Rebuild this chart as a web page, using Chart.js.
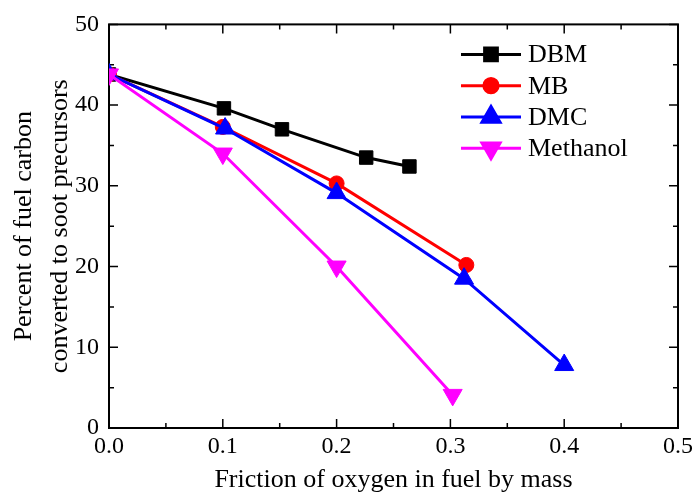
<!DOCTYPE html>
<html lang="en">
<head>
<meta charset="utf-8" />
<title>Fuel carbon converted to soot precursors</title>
<script src="https://cdn.jsdelivr.net/npm/chart.js@4.4.0/dist/chart.umd.min.js"></script>
<style>
  html, body { margin: 0; padding: 0; background: #fff; }
  #wrap { width: 697px; height: 492px; }
</style>
</head>
<body>
<div id="wrap"><canvas id="grafico"></canvas></div>
<script>
// datos
const seriesNames = ["DBM", "MB", "DMC", "Methanol"];
const dbmX = [0, 0.101, 0.152, 0.226, 0.264];
const dbmY = [43.8, 39.6, 37.0, 33.5, 32.4];
const mbX = [0, 0.1, 0.2, 0.314];
const mbY = [43.8, 37.3, 30.3, 20.2];
const dmcX = [0, 0.102, 0.2, 0.312, 0.4];
const dmcY = [43.8, 37.1, 29.1, 18.5, 7.8];
const metX = [0, 0.1, 0.2, 0.302];
const metY = [43.8, 34.0, 20.0, 4.1];
const xTicks = [0, 0.1, 0.2, 0.3, 0.4, 0.5];
const yTicks = [0, 10, 20, 30, 40, 50];

const FUENTE = "'Liberation Serif', 'Times New Roman', serif";

function pares(xs, ys) {
    return xs.map((x, i) => ({ x: x, y: ys[i] }));
}

const estilos = [
    { color: "#000000", punto: "rect", r: 9.5, rot: 0 },
    { color: "#ff0000", punto: "circle", r: 7.5, rot: 0 },
    { color: "#0000ff", punto: "triangle", r: 11, rot: 0 },
    { color: "#ff00ff", punto: "triangle", r: 11, rot: 180 },
];
const valores = [
    pares(dbmX, dbmY),
    pares(mbX, mbY),
    pares(dmcX, dmcY),
    pares(metX, metY),
];

// marco y marcas hacia adentro
const marco = {
    id: "marco",
    beforeDatasetsDraw(chart) {
        const ctx = chart.ctx, a = chart.chartArea;
        const xs = chart.scales.x, ys = chart.scales.y;
        ctx.save();
        ctx.strokeStyle = "#000";
        ctx.lineWidth = 1.5;
        ctx.beginPath();
        for (let i = 0; i <= 10; i++) {
            const px = xs.getPixelForValue(i * 0.05);
            const largo = i % 2 === 0 ? 9 : 5;
            ctx.moveTo(px, a.bottom); ctx.lineTo(px, a.bottom - largo);
            ctx.moveTo(px, a.top); ctx.lineTo(px, a.top + largo);
            const py = ys.getPixelForValue(i * 5);
            ctx.moveTo(a.left, py); ctx.lineTo(a.left + largo, py);
            ctx.moveTo(a.right, py); ctx.lineTo(a.right - largo, py);
        }
        ctx.stroke();
        ctx.lineWidth = 2;
        ctx.strokeRect(a.left, a.top, a.right - a.left, a.bottom - a.top);
        ctx.restore();
    },
    afterDraw(chart) {
        const ctx = chart.ctx, a = chart.chartArea;
        ctx.save();
        chart.data.datasets.forEach((d, i) => {
            const e = estilos[i];
            const y = a.top + 30 + i * 31.3;
            const x0 = a.right - 217;
            ctx.strokeStyle = e.color;
            ctx.fillStyle = e.color;
            ctx.lineWidth = 3;
            ctx.beginPath();
            ctx.moveTo(x0, y);
            ctx.lineTo(x0 + 60, y);
            ctx.stroke();
            Chart.helpers.drawPoint(ctx, { pointStyle: e.punto, radius: e.r * 0.95, rotation: e.rot, borderWidth: 1 }, x0 + 30, y);
            ctx.fillStyle = "#000";
            ctx.font = "26px " + FUENTE;
            ctx.textBaseline = "middle";
            ctx.fillText(d.label, x0 + 67, y + 1);
        });
        ctx.restore();
    },
};

new Chart(document.getElementById("grafico").getContext("2d"), {
    type: "scatter",
    data: {
        datasets: seriesNames.map((n, i) => ({
            label: n,
            data: valores[i],
            showLine: true,
            borderColor: estilos[i].color,
            backgroundColor: estilos[i].color,
            borderWidth: 3,
            pointStyle: estilos[i].punto,
            pointRadius: estilos[i].r,
            pointRotation: estilos[i].rot,
            pointBorderWidth: 1,
            order: 4 - i,
        })),
    },
    options: {
        responsive: true,
        maintainAspectRatio: false,
        animation: false,
        layout: { padding: { top: 24, right: 16, left: 0, bottom: 0 } },
        plugins: {
            legend: { display: false },
            tooltip: { enabled: false },
        },
        scales: {
            x: {
                type: "linear",
                min: 0,
                max: 0.5,
                afterBuildTicks: (s) => { s.ticks = xTicks.map((v) => ({ value: v })); },
                afterFit: (s) => { s.height = 64; },
                grid: { display: false, drawTicks: false },
                border: { display: false },
                ticks: {
                    color: "#000",
                    padding: 4,
                    maxRotation: 0,
                    font: { family: FUENTE, size: 24 },
                    callback: (v) => Number(v).toFixed(1),
                },
                title: {
                    display: true,
                    text: "Friction of oxygen in fuel by mass",
                    color: "#000",
                    font: { family: FUENTE, size: 26 },
                    padding: { top: 0, bottom: -4 },
                },
            },
            y: {
                min: 0,
                max: 50,
                afterBuildTicks: (s) => { s.ticks = yTicks.map((v) => ({ value: v })); },
                afterFit: (s) => { s.width = 109; },
                grid: { display: false, drawTicks: false },
                border: { display: false },
                ticks: {
                    color: "#000",
                    padding: 10,
                    font: { family: FUENTE, size: 24 },
                },
                title: {
                    display: true,
                    text: ["Percent of fuel carbon", "converted to soot precursors"],
                    color: "#000",
                    font: { family: FUENTE, size: 26, lineHeight: 1.38 },
                    padding: { top: 6, bottom: 0 },
                },
            },
        },
    },
    plugins: [marco],
});
</script>
</body>
</html>
